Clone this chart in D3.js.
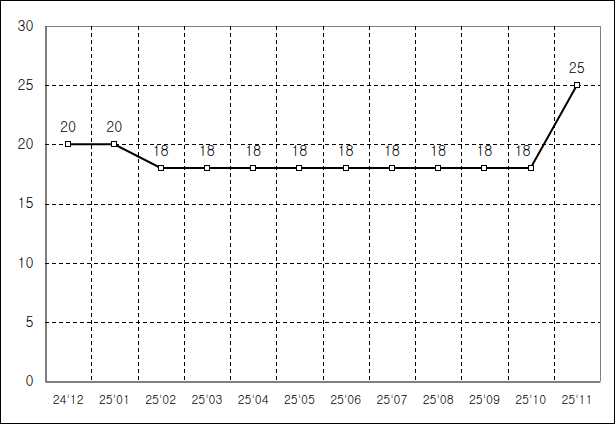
<!DOCTYPE html>
<html><head><meta charset="utf-8">
<script src="https://cdn.jsdelivr.net/npm/d3@7"></script>
<style>html,body{margin:0;padding:0;background:#fff}svg{display:block}</style>
</head><body>
<svg id="c" width="615" height="424"></svg>
<script>
const categories = ["24'12","25'01","25'02","25'03","25'04","25'05","25'06","25'07","25'08","25'09","25'10","25'11"];
const values = [20,20,18,18,18,18,18,18,18,18,18,25];
const yTicks = [0,5,10,15,20,25,30];

const W = 615, H = 424;
const m = {left:45, right:15, top:26, bottom:43};
const svg = d3.select("#c");
svg.append("rect").attr("x",0.5).attr("y",0.5).attr("width",W-1).attr("height",H-1)
  .attr("fill","#fff").attr("stroke","#000");

const x = d3.scaleBand().domain(categories).range([m.left, W-m.right]).padding(0);
const y = d3.scaleLinear().domain([0,30]).range([H-m.bottom, m.top]);
const font = "Gulim, Dotum, 'DejaVu Sans', Arial, sans-serif";

// top and right border (grey)
const x0 = m.left, x1 = W-m.right, yT = y(30), yB = y(0);
svg.append("line").attr("x1",x0).attr("x2",x1+0.5).attr("y1",Math.round(yT)+0.5).attr("y2",Math.round(yT)+0.5).attr("stroke","#808080");
svg.append("line").attr("x1",Math.round(x1)+0.5).attr("x2",Math.round(x1)+0.5).attr("y1",yT).attr("y2",yB).attr("stroke","#808080");

// horizontal gridlines
svg.append("g").selectAll("line").data(yTicks.filter(t=>t>0 && t<30)).join("line")
  .attr("x1",x0).attr("x2",x1)
  .attr("y1",d=>Math.round(y(d))+0.5).attr("y2",d=>Math.round(y(d))+0.5)
  .attr("stroke","#000").attr("stroke-dasharray","4,3");
// vertical gridlines
svg.append("g").selectAll("line").data(categories.slice(1)).join("line")
  .attr("x1",d=>Math.round(x(d))+0.5).attr("x2",d=>Math.round(x(d))+0.5)
  .attr("y1",yT).attr("y2",yB)
  .attr("stroke","#000").attr("stroke-dasharray","4,3");

// axes
const yAxis = d3.axisLeft(y).tickValues(yTicks).tickSize(0).tickPadding(12);
const gy = svg.append("g").attr("transform",`translate(${Math.round(x0)+0.5},0)`).call(yAxis);
gy.select(".domain").attr("stroke","#000");
gy.selectAll("text").attr("font-family",font).attr("font-size",14).attr("fill","#000");

const xAxis = d3.axisBottom(x).tickSize(0).tickPadding(14);
const gx = svg.append("g").attr("transform",`translate(0,${Math.round(yB)+0.5})`).call(xAxis);
gx.select(".domain").attr("stroke","#000");
gx.selectAll("text").attr("font-family",font).attr("font-size",12).attr("fill","#000");

// line
const cx = d => x(d) + x.bandwidth()/2;
const line = d3.line().x((d,i)=>cx(categories[i])).y(d=>y(d));
svg.append("path").datum(values).attr("d",line).attr("fill","none").attr("stroke","#000").attr("stroke-width",2);

// markers
svg.append("g").selectAll("rect").data(values).join("rect")
  .attr("x",(d,i)=>Math.round(cx(categories[i]))-2.5).attr("y",d=>Math.round(y(d))-2.5)
  .attr("width",5).attr("height",5).attr("fill","#fff").attr("stroke","#000").attr("stroke-width",1);

// labels
svg.append("g").selectAll("text").data(values).join("text")
  .attr("x",(d,i)=>cx(categories[i]) - (i===values.length-2 ? 8 : 0))
  .attr("y",d=>y(d)-12)
  .attr("text-anchor","middle")
  .attr("font-family",font).attr("font-size",14).attr("fill","#000")
  .text(d=>d);
</script>
</body></html>
